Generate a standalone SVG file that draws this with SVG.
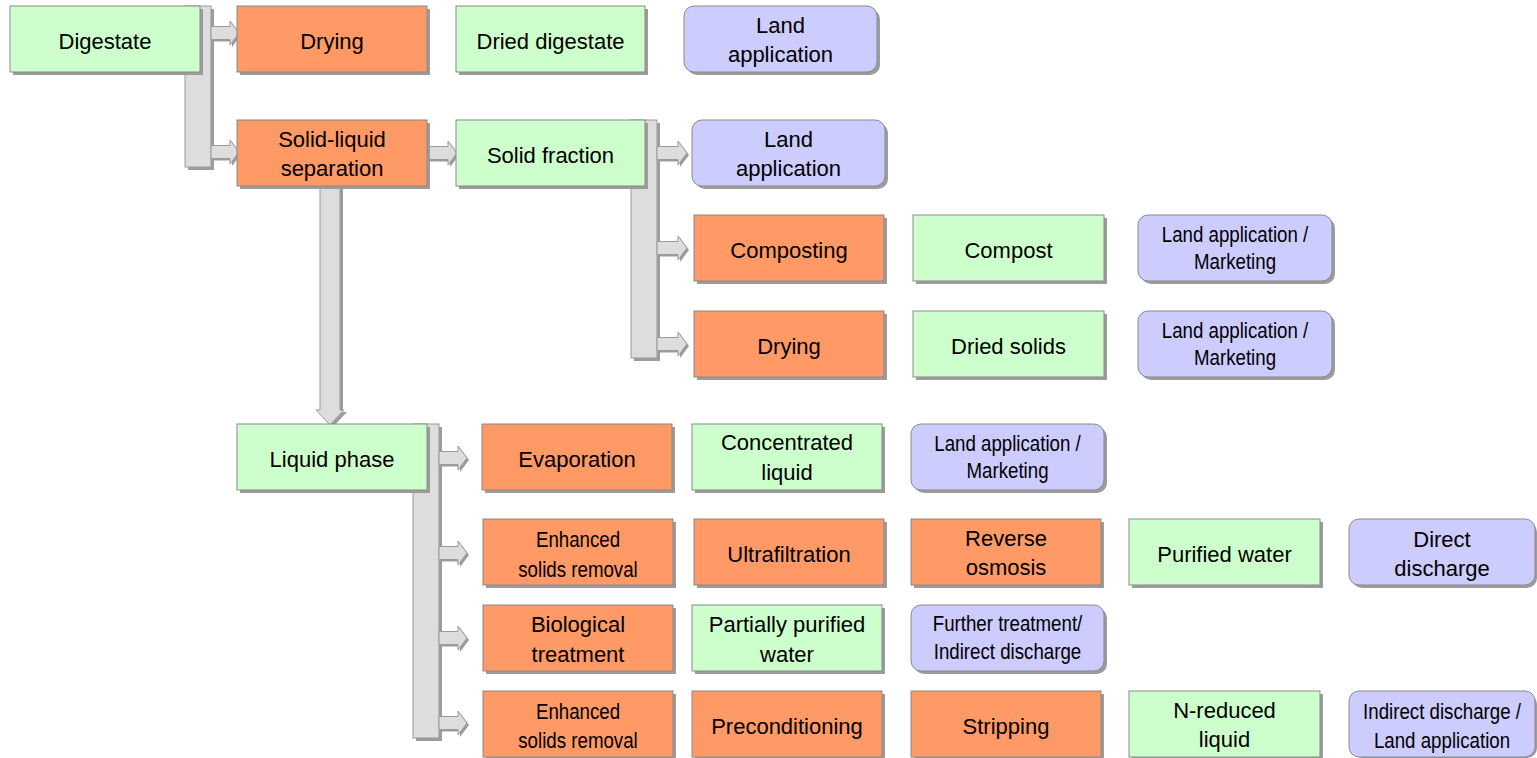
<svg xmlns="http://www.w3.org/2000/svg" width="1537" height="758" viewBox="0 0 1537 758">
<style>
  .sh { fill: #9c9c9c; }
  .g { fill: #CCFFCC; stroke: #8a8a8a; stroke-width: 1; }
  .o { fill: #FF9966; stroke: #8a8a8a; stroke-width: 1; }
  .l { fill: #CCCCFF; stroke: #8a8a8a; stroke-width: 1; }
  .bar { fill: #DDDDDD; stroke: #9a9a9a; stroke-width: 1; }
  .ash { fill: #9c9c9c; }
  .t { font-family: "Liberation Sans", Arial, sans-serif; font-size: 22px; fill: #000; text-anchor: middle; }
  .n { font-family: "Liberation Sans", Arial, sans-serif; font-size: 22px; fill: #000; text-anchor: middle; }
</style>
<rect width="1537" height="758" fill="#ffffff"/>

<g id="connectors">
  <!-- bar from Digestate -->
  <rect class="sh" x="188" y="9" width="26" height="161"/>
  <rect class="bar" x="185" y="6" width="26" height="161"/>
  <path class="ash" d="M213 28.5 H232 V23 L241 35 L232 47 V41.5 H213 Z"/>
  <path class="bar" d="M211 26.5 H230 V21 L239 33 L230 45 V39.5 H211 Z"/>
  <path class="ash" d="M213 147.5 H232 V142 L241 154 L232 166 V160.5 H213 Z"/>
  <path class="bar" d="M211 145.5 H230 V140 L239 152 L230 164 V158.5 H211 Z"/>

  <!-- Solid-liquid separation to Solid fraction -->
  <path class="ash" d="M429 148.5 H450 V143 L459 155 L450 167 V161.5 H429 Z"/>
  <path class="bar" d="M427 146.5 H448 V141 L457 153 L448 165 V159.5 H427 Z"/>

  <!-- bar from Solid fraction -->
  <rect class="sh" x="634" y="123" width="26" height="238"/>
  <rect class="bar" x="631" y="120" width="26" height="238"/>
  <path class="ash" d="M659 148.5 H680 V143 L689 155 L680 167 V161.5 H659 Z"/>
  <path class="bar" d="M657 146.5 H678 V141 L687 153 L678 165 V159.5 H657 Z"/>
  <path class="ash" d="M659 243.5 H680 V238 L689 250 L680 262 V256.5 H659 Z"/>
  <path class="bar" d="M657 241.5 H678 V236 L687 248 L678 260 V254.5 H657 Z"/>
  <path class="ash" d="M659 339.5 H680 V334 L689 346 L680 358 V352.5 H659 Z"/>
  <path class="bar" d="M657 337.5 H678 V332 L687 344 L678 356 V350.5 H657 Z"/>

  <!-- down arrow to Liquid phase -->
  <path class="ash" d="M323 187 V412 H319 L333 427 L347 412 H343 V187 Z"/>
  <path class="bar" d="M320 187 V410 H316 L330 425 L344 410 H340 V187 Z"/>

  <!-- bar from Liquid phase -->
  <rect class="sh" x="416" y="427" width="26" height="314"/>
  <rect class="bar" x="413" y="424" width="26" height="314"/>
  <path class="ash" d="M441 453.5 H460 V448 L469 460 L460 472 V466.5 H441 Z"/>
  <path class="bar" d="M439 451.5 H458 V446 L467 458 L458 470 V464.5 H439 Z"/>
  <path class="ash" d="M441 548.5 H460 V543 L469 555 L460 567 V561.5 H441 Z"/>
  <path class="bar" d="M439 546.5 H458 V541 L467 553 L458 565 V559.5 H439 Z"/>
  <path class="ash" d="M441 633.5 H460 V628 L469 640 L460 652 V646.5 H441 Z"/>
  <path class="bar" d="M439 631.5 H458 V626 L467 638 L458 650 V644.5 H439 Z"/>
  <path class="ash" d="M441 718.5 H460 V713 L469 725 L460 737 V731.5 H441 Z"/>
  <path class="bar" d="M439 716.5 H458 V711 L467 723 L458 735 V729.5 H439 Z"/>
</g>

<!-- Top row -->
<g id="digestate">
  <rect class="sh" x="13" y="9" width="190" height="66"/>
  <rect class="g" x="10" y="6" width="190" height="66"/>
  <text class="t" x="105" y="49">Digestate</text>
</g>
<g id="drying1">
  <rect class="sh" x="240" y="9" width="190" height="66"/>
  <rect class="o" x="237" y="6" width="190" height="66"/>
  <text class="t" x="332" y="49">Drying</text>
</g>
<g id="dried-digestate">
  <rect class="sh" x="459" y="9" width="189" height="66"/>
  <rect class="g" x="456" y="6" width="189" height="66"/>
  <text class="t" x="550.5" y="49">Dried digestate</text>
</g>
<g id="land1">
  <rect class="sh" x="687" y="9" width="193" height="66" rx="10"/>
  <rect class="l" x="684" y="6" width="193" height="66" rx="10"/>
  <text class="t" x="780.5" y="33">Land</text>
  <text class="t" x="780.5" y="62">application</text>
</g>

<!-- Second row -->
<g id="sl-separation">
  <rect class="sh" x="240" y="123" width="190" height="66"/>
  <rect class="o" x="237" y="120" width="190" height="66"/>
  <text class="t" x="332" y="147">Solid-liquid</text>
  <text class="t" x="332" y="176">separation</text>
</g>
<g id="solid-fraction">
  <rect class="sh" x="459" y="123" width="189" height="66"/>
  <rect class="g" x="456" y="120" width="189" height="66"/>
  <text class="t" x="550.5" y="163">Solid fraction</text>
</g>
<g id="land2">
  <rect class="sh" x="695" y="123" width="193" height="66" rx="10"/>
  <rect class="l" x="692" y="120" width="193" height="66" rx="10"/>
  <text class="t" x="788.5" y="147">Land</text>
  <text class="t" x="788.5" y="176">application</text>
</g>

<!-- Composting row -->
<g id="composting">
  <rect class="sh" x="697" y="218" width="190" height="66"/>
  <rect class="o" x="694" y="215" width="190" height="66"/>
  <text class="t" x="789" y="258">Composting</text>
</g>
<g id="compost">
  <rect class="sh" x="916" y="218" width="191" height="66"/>
  <rect class="g" x="913" y="215" width="191" height="66"/>
  <text class="t" x="1008.5" y="258">Compost</text>
</g>
<g id="land-marketing1">
  <rect class="sh" x="1141" y="218" width="194" height="66" rx="10"/>
  <rect class="l" x="1138" y="215" width="194" height="66" rx="10"/>
  <text class="n" transform="translate(1235 241.5) scale(0.85 1)">Land application /</text>
  <text class="n" transform="translate(1235 268.5) scale(0.85 1)">Marketing</text>
</g>

<!-- Drying solids row -->
<g id="drying2">
  <rect class="sh" x="697" y="314" width="190" height="66"/>
  <rect class="o" x="694" y="311" width="190" height="66"/>
  <text class="t" x="789" y="354">Drying</text>
</g>
<g id="dried-solids">
  <rect class="sh" x="916" y="314" width="191" height="66"/>
  <rect class="g" x="913" y="311" width="191" height="66"/>
  <text class="t" x="1008.5" y="354">Dried solids</text>
</g>
<g id="land-marketing2">
  <rect class="sh" x="1141" y="314" width="194" height="66" rx="10"/>
  <rect class="l" x="1138" y="311" width="194" height="66" rx="10"/>
  <text class="n" transform="translate(1235 337.5) scale(0.85 1)">Land application /</text>
  <text class="n" transform="translate(1235 364.5) scale(0.85 1)">Marketing</text>
</g>

<!-- Liquid phase -->
<g id="liquid-phase">
  <rect class="sh" x="240" y="427" width="190" height="66"/>
  <rect class="g" x="237" y="424" width="190" height="66"/>
  <text class="t" x="332" y="467">Liquid phase</text>
</g>

<!-- Evaporation row -->
<g id="evaporation">
  <rect class="sh" x="485" y="427" width="190" height="66"/>
  <rect class="o" x="482" y="424" width="190" height="66"/>
  <text class="t" x="577" y="467">Evaporation</text>
</g>
<g id="concentrated-liquid">
  <rect class="sh" x="695" y="427" width="190" height="66"/>
  <rect class="g" x="692" y="424" width="190" height="66"/>
  <text class="t" x="787" y="450">Concentrated</text>
  <text class="t" x="787" y="480">liquid</text>
</g>
<g id="land-marketing3">
  <rect class="sh" x="914" y="427" width="193" height="66" rx="10"/>
  <rect class="l" x="911" y="424" width="193" height="66" rx="10"/>
  <text class="n" transform="translate(1007.5 451) scale(0.85 1)">Land application /</text>
  <text class="n" transform="translate(1007.5 478) scale(0.85 1)">Marketing</text>
</g>

<!-- Ultrafiltration row -->
<g id="enhanced1">
  <rect class="sh" x="486" y="522" width="190" height="66"/>
  <rect class="o" x="483" y="519" width="190" height="66"/>
  <text class="n" transform="translate(578 546.5) scale(0.85 1)">Enhanced</text>
  <text class="n" transform="translate(578 577) scale(0.85 1)">solids removal</text>
</g>
<g id="ultrafiltration">
  <rect class="sh" x="697" y="522" width="190" height="66"/>
  <rect class="o" x="694" y="519" width="190" height="66"/>
  <text class="t" x="789" y="562">Ultrafiltration</text>
</g>
<g id="reverse-osmosis">
  <rect class="sh" x="914" y="522" width="190" height="66"/>
  <rect class="o" x="911" y="519" width="190" height="66"/>
  <text class="t" x="1006" y="546">Reverse</text>
  <text class="t" x="1006" y="575">osmosis</text>
</g>
<g id="purified-water">
  <rect class="sh" x="1132" y="522" width="191" height="66"/>
  <rect class="g" x="1129" y="519" width="191" height="66"/>
  <text class="t" x="1224.5" y="562">Purified water</text>
</g>
<g id="direct-discharge">
  <rect class="sh" x="1352" y="522" width="185" height="66" rx="10"/>
  <rect class="l" x="1349" y="519" width="186" height="66" rx="10"/>
  <text class="t" x="1442" y="546.5">Direct</text>
  <text class="t" x="1442" y="576">discharge</text>
</g>

<!-- Biological row -->
<g id="biological">
  <rect class="sh" x="486" y="608" width="190" height="66"/>
  <rect class="o" x="483" y="605" width="190" height="66"/>
  <text class="t" x="578" y="632">Biological</text>
  <text class="t" x="578" y="662">treatment</text>
</g>
<g id="partially-purified">
  <rect class="sh" x="695" y="608" width="190" height="66"/>
  <rect class="g" x="692" y="605" width="190" height="66"/>
  <text class="t" x="787" y="632">Partially purified</text>
  <text class="t" x="787" y="662">water</text>
</g>
<g id="further-treatment">
  <rect class="sh" x="914" y="608" width="193" height="66" rx="10"/>
  <rect class="l" x="911" y="605" width="193" height="66" rx="10"/>
  <text class="n" transform="translate(1007.5 630.5) scale(0.85 1)">Further treatment/</text>
  <text class="n" transform="translate(1007.5 658.5) scale(0.85 1)">Indirect discharge</text>
</g>

<!-- Stripping row -->
<g id="enhanced2">
  <rect class="sh" x="486" y="694" width="190" height="64"/>
  <rect class="o" x="483" y="691" width="190" height="66"/>
  <text class="n" transform="translate(578 718.5) scale(0.85 1)">Enhanced</text>
  <text class="n" transform="translate(578 748) scale(0.85 1)">solids removal</text>
</g>
<g id="preconditioning">
  <rect class="sh" x="695" y="694" width="190" height="64"/>
  <rect class="o" x="692" y="691" width="190" height="66"/>
  <text class="t" x="787" y="734">Preconditioning</text>
</g>
<g id="stripping">
  <rect class="sh" x="914" y="694" width="190" height="64"/>
  <rect class="o" x="911" y="691" width="190" height="66"/>
  <text class="t" x="1006" y="734">Stripping</text>
</g>
<g id="n-reduced">
  <rect class="sh" x="1132" y="694" width="191" height="64"/>
  <rect class="g" x="1129" y="691" width="191" height="66"/>
  <text class="t" x="1224.5" y="718">N-reduced</text>
  <text class="t" x="1224.5" y="747">liquid</text>
</g>
<g id="indirect-land">
  <rect class="sh" x="1352" y="694" width="185" height="64" rx="10"/>
  <rect class="l" x="1349" y="691" width="186" height="66" rx="10"/>
  <text class="n" transform="translate(1442 718.5) scale(0.85 1)">Indirect discharge /</text>
  <text class="n" transform="translate(1442 748) scale(0.85 1)">Land application</text>
</g>
</svg>
